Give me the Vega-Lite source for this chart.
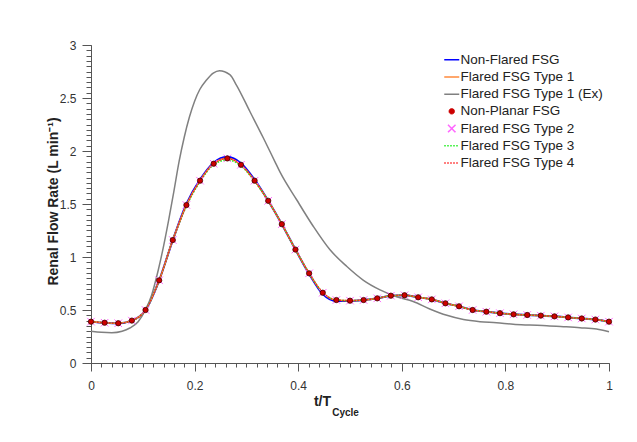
{
  "$schema": "https://vega.github.io/schema/vega-lite/v6.json",
  "width": 518,
  "height": 318,
  "autosize": "none",
  "padding": {"left": 91, "top": 45, "right": 28, "bottom": 79},
  "background": "white",
  "config": {
    "view": {"stroke": null},
    "font": "Liberation Sans",
    "axis": {
      "grid": false,
      "labelFont": "Liberation Sans",
      "titleFont": "Liberation Sans",
      "domainColor": "#555555",
      "tickColor": "#555555",
      "labelColor": "#333333",
      "titleColor": "#222222",
      "labelFontSize": 12
    }
  },
  "datasets": {
    "main": [
      {"t": 0, "nf": 0.39, "f1": 0.39, "np": 0.39, "f2": 0.39, "f3": 0.39, "f4": 0.39},
      {"t": 0.0263, "nf": 0.38, "f1": 0.38, "np": 0.38, "f2": 0.38, "f3": 0.38, "f4": 0.38},
      {"t": 0.0526, "nf": 0.375, "f1": 0.375, "np": 0.375, "f2": 0.375, "f3": 0.375, "f4": 0.375},
      {"t": 0.0789, "nf": 0.4, "f1": 0.4, "np": 0.4, "f2": 0.4, "f3": 0.4, "f4": 0.4},
      {"t": 0.1053, "nf": 0.5, "f1": 0.5, "np": 0.5, "f2": 0.5, "f3": 0.5, "f4": 0.5},
      {"t": 0.1316, "nf": 0.78, "f1": 0.78, "np": 0.78, "f2": 0.78, "f3": 0.78, "f4": 0.78},
      {"t": 0.1579, "nf": 1.16, "f1": 1.16, "np": 1.16, "f2": 1.16, "f3": 1.16, "f4": 1.16},
      {"t": 0.1842, "nf": 1.5, "f1": 1.49, "np": 1.49, "f2": 1.49, "f3": 1.48, "f4": 1.49},
      {"t": 0.2105, "nf": 1.73, "f1": 1.72, "np": 1.72, "f2": 1.72, "f3": 1.71, "f4": 1.72},
      {"t": 0.2368, "nf": 1.89, "f1": 1.88, "np": 1.88, "f2": 1.88, "f3": 1.87, "f4": 1.88},
      {"t": 0.2632, "nf": 1.945, "f1": 1.93, "np": 1.93, "f2": 1.93, "f3": 1.915, "f4": 1.93},
      {"t": 0.2895, "nf": 1.885, "f1": 1.87, "np": 1.87, "f2": 1.87, "f3": 1.86, "f4": 1.87},
      {"t": 0.3158, "nf": 1.73, "f1": 1.72, "np": 1.72, "f2": 1.72, "f3": 1.715, "f4": 1.72},
      {"t": 0.3421, "nf": 1.53, "f1": 1.53, "np": 1.53, "f2": 1.53, "f3": 1.53, "f4": 1.53},
      {"t": 0.3684, "nf": 1.31, "f1": 1.31, "np": 1.31, "f2": 1.31, "f3": 1.31, "f4": 1.31},
      {"t": 0.3947, "nf": 1.07, "f1": 1.07, "np": 1.07, "f2": 1.07, "f3": 1.07, "f4": 1.07},
      {"t": 0.4211, "nf": 0.84, "f1": 0.846, "np": 0.846, "f2": 0.846, "f3": 0.846, "f4": 0.846},
      {"t": 0.4474, "nf": 0.65, "f1": 0.663, "np": 0.663, "f2": 0.663, "f3": 0.663, "f4": 0.663},
      {"t": 0.4737, "nf": 0.585, "f1": 0.594, "np": 0.594, "f2": 0.594, "f3": 0.594, "f4": 0.594},
      {"t": 0.5, "nf": 0.585, "f1": 0.588, "np": 0.588, "f2": 0.588, "f3": 0.588, "f4": 0.588},
      {"t": 0.5263, "nf": 0.594, "f1": 0.594, "np": 0.594, "f2": 0.594, "f3": 0.594, "f4": 0.594},
      {"t": 0.5526, "nf": 0.61, "f1": 0.61, "np": 0.61, "f2": 0.61, "f3": 0.61, "f4": 0.61},
      {"t": 0.5789, "nf": 0.635, "f1": 0.635, "np": 0.635, "f2": 0.635, "f3": 0.635, "f4": 0.635},
      {"t": 0.6053, "nf": 0.639, "f1": 0.639, "np": 0.639, "f2": 0.639, "f3": 0.639, "f4": 0.639},
      {"t": 0.6316, "nf": 0.62, "f1": 0.62, "np": 0.62, "f2": 0.62, "f3": 0.62, "f4": 0.62},
      {"t": 0.6579, "nf": 0.6, "f1": 0.6, "np": 0.6, "f2": 0.6, "f3": 0.6, "f4": 0.6},
      {"t": 0.6842, "nf": 0.563, "f1": 0.563, "np": 0.563, "f2": 0.563, "f3": 0.563, "f4": 0.563},
      {"t": 0.7105, "nf": 0.535, "f1": 0.535, "np": 0.535, "f2": 0.535, "f3": 0.535, "f4": 0.535},
      {"t": 0.7368, "nf": 0.5, "f1": 0.5, "np": 0.5, "f2": 0.5, "f3": 0.5, "f4": 0.5},
      {"t": 0.7632, "nf": 0.484, "f1": 0.484, "np": 0.484, "f2": 0.484, "f3": 0.484, "f4": 0.484},
      {"t": 0.7895, "nf": 0.47, "f1": 0.47, "np": 0.47, "f2": 0.47, "f3": 0.47, "f4": 0.47},
      {"t": 0.8158, "nf": 0.459, "f1": 0.459, "np": 0.459, "f2": 0.459, "f3": 0.459, "f4": 0.459},
      {"t": 0.8421, "nf": 0.453, "f1": 0.453, "np": 0.453, "f2": 0.453, "f3": 0.453, "f4": 0.453},
      {"t": 0.8684, "nf": 0.447, "f1": 0.447, "np": 0.447, "f2": 0.447, "f3": 0.447, "f4": 0.447},
      {"t": 0.8947, "nf": 0.44, "f1": 0.44, "np": 0.44, "f2": 0.44, "f3": 0.44, "f4": 0.44},
      {"t": 0.9211, "nf": 0.43, "f1": 0.43, "np": 0.43, "f2": 0.43, "f3": 0.43, "f4": 0.43},
      {"t": 0.9474, "nf": 0.42, "f1": 0.42, "np": 0.42, "f2": 0.42, "f3": 0.42, "f4": 0.42},
      {"t": 0.9737, "nf": 0.41, "f1": 0.41, "np": 0.41, "f2": 0.41, "f3": 0.41, "f4": 0.41},
      {"t": 1, "nf": 0.39, "f1": 0.39, "np": 0.39, "f2": 0.39, "f3": 0.39, "f4": 0.39}
    ],
    "ex": [
      {"t": 0, "y": 0.3},
      {"t": 0.02, "y": 0.29},
      {"t": 0.04, "y": 0.286},
      {"t": 0.06, "y": 0.3},
      {"t": 0.075, "y": 0.33},
      {"t": 0.091, "y": 0.39},
      {"t": 0.105, "y": 0.5},
      {"t": 0.117, "y": 0.64},
      {"t": 0.13, "y": 0.88},
      {"t": 0.14, "y": 1.1},
      {"t": 0.15, "y": 1.35},
      {"t": 0.16, "y": 1.62},
      {"t": 0.17, "y": 1.9},
      {"t": 0.18, "y": 2.13},
      {"t": 0.19, "y": 2.32},
      {"t": 0.2, "y": 2.47},
      {"t": 0.21, "y": 2.58},
      {"t": 0.223, "y": 2.67},
      {"t": 0.236, "y": 2.735},
      {"t": 0.248, "y": 2.758},
      {"t": 0.268, "y": 2.72},
      {"t": 0.281, "y": 2.62},
      {"t": 0.307, "y": 2.37},
      {"t": 0.333, "y": 2.12},
      {"t": 0.355, "y": 1.9},
      {"t": 0.365, "y": 1.8},
      {"t": 0.397, "y": 1.54},
      {"t": 0.429, "y": 1.29},
      {"t": 0.461, "y": 1.07},
      {"t": 0.494, "y": 0.91},
      {"t": 0.526, "y": 0.78},
      {"t": 0.558, "y": 0.69},
      {"t": 0.59, "y": 0.625},
      {"t": 0.622, "y": 0.58},
      {"t": 0.654, "y": 0.51},
      {"t": 0.687, "y": 0.45},
      {"t": 0.719, "y": 0.41},
      {"t": 0.751, "y": 0.39},
      {"t": 0.783, "y": 0.38},
      {"t": 0.815, "y": 0.365},
      {"t": 0.847, "y": 0.358},
      {"t": 0.88, "y": 0.352},
      {"t": 0.912, "y": 0.343},
      {"t": 0.944, "y": 0.333},
      {"t": 0.976, "y": 0.32},
      {"t": 1, "y": 0.295}
    ]
  },
  "resolve": {"axis": {"x": "independent", "y": "independent"}},
  "layer": [
    {
      "data": {"name": "main"},
      "mark": {"type": "line", "interpolate": "monotone", "strokeWidth": 2},
      "encoding": {
        "x": {"field": "t", "type": "quantitative", "scale": {"domain": [0, 1], "nice": false},
          "axis": {"orient": "bottom", "values": [0, 0.2, 0.4, 0.6, 0.8, 1], "format": ".1~f", "tickSize": 8, "labelPadding": 9.5, "labelFlush": false, "labelOverlap": false,
            "title": "t/T", "titleFontSize": 14, "titleFontWeight": "bold", "titleX": 231, "titleY": 42, "titleBaseline": "alphabetic", "titleAlign": "center"}},
        "y": {"field": "nf", "type": "quantitative", "scale": {"domain": [0, 3], "nice": false},
          "axis": {"orient": "left", "values": [0, 0.5, 1, 1.5, 2, 2.5, 3], "format": ".1~f", "tickSize": 9, "labelPadding": 6, "labelFlush": false, "labelOverlap": false,
            "title": "Renal Flow Rate (L min⁻¹)", "titleFontSize": 14, "titleFontWeight": "bold", "titleX": -34, "titleY": 156, "titleAngle": -90, "titleBaseline": "alphabetic", "titleAlign": "center"}},
        "color": {"datum": "Non-Flared FSG",
          "scale": {"domain": ["Non-Flared FSG", "Flared FSG Type 1", "Flared FSG Type 1 (Ex)", "Non-Planar FSG", "Flared FSG Type 2", "Flared FSG Type 3", "Flared FSG Type 4"],
            "range": ["#0000ff", "#ff8a3d", "#808080", "#cc0000", "#ff66ff", "#22ee22", "#ff2020"]},
          "legend": {
            "title": null, "orient": "none", "legendX": 354, "legendY": 8, "padding": 0,
            "symbolSize": 225, "symbolType": "stroke", "labelOffset": 2, "rowPadding": 2.2,
            "labelFont": "Liberation Sans", "labelFontSize": 13.5, "labelColor": "#222222", "labelLimit": 300,
            "encode": {"symbols": {"update": {
              "shape": {"signal": "datum.value === 'Non-Planar FSG' ? 'circle' : datum.value === 'Flared FSG Type 2' ? 'M-1,-1L1,1M-1,1L1,-1' : 'stroke'"},
              "size": {"signal": "datum.value === 'Non-Planar FSG' ? 30 : datum.value === 'Flared FSG Type 2' ? 56 : 225"},
              "fill": {"signal": "datum.value === 'Non-Planar FSG' ? '#cc0000' : 'transparent'"},
              "stroke": {"signal": "datum.value === 'Non-Planar FSG' ? '#400000' : scale('color', datum.value)"},
              "strokeWidth": {"signal": "datum.value === 'Non-Planar FSG' ? 0.8 : 1.5"},
              "strokeDash": {"signal": "(datum.value === 'Flared FSG Type 3' || datum.value === 'Flared FSG Type 4') ? [1.5, 1.5] : [1, 0]"},
              "opacity": {"value": 1}
            }}}
          }}
      }
    },
    {
      "data": {"name": "main"},
      "mark": {"type": "line", "interpolate": "monotone", "strokeWidth": 1.6},
      "encoding": {
        "x": {"field": "t", "type": "quantitative", "scale": {"domain": [0, 1], "nice": false},
          "axis": {"orient": "bottom", "values": [0,0.02,0.04,0.06,0.08,0.1,0.12,0.14,0.16,0.18,0.2,0.22,0.24,0.26,0.28,0.3,0.32,0.34,0.36,0.38,0.4,0.42,0.44,0.46,0.48,0.5,0.52,0.54,0.56,0.58,0.6,0.62,0.64,0.66,0.68,0.7,0.72,0.74,0.76,0.78,0.8,0.82,0.84,0.86,0.88,0.9,0.92,0.94,0.96,0.98,1],
            "tickSize": 4, "labels": false, "domain": false,
            "title": "Cycle", "titleFontSize": 10, "titleFontWeight": "bold", "titleX": 254, "titleY": 52, "titleBaseline": "alphabetic", "titleAlign": "center"}},
        "y": {"field": "f1", "type": "quantitative", "scale": {"domain": [0, 3], "nice": false},
          "axis": {"orient": "left", "values": [0,0.05,0.1,0.15,0.2,0.25,0.3,0.35,0.4,0.45,0.5,0.55,0.6,0.65,0.7,0.75,0.8,0.85,0.9,0.95,1,1.05,1.1,1.15,1.2,1.25,1.3,1.35,1.4,1.45,1.5,1.55,1.6,1.65,1.7,1.75,1.8,1.85,1.9,1.95,2,2.05,2.1,2.15,2.2,2.25,2.3,2.35,2.4,2.45,2.5,2.55,2.6,2.65,2.7,2.75,2.8,2.85,2.9,2.95,3],
            "tickSize": 5, "labels": false, "domain": false, "title": null}},
        "color": {"datum": "Flared FSG Type 1"}
      }
    },
    {
      "data": {"name": "ex"},
      "mark": {"type": "line", "interpolate": "monotone", "strokeWidth": 1.5},
      "encoding": {
        "x": {"field": "t", "type": "quantitative", "scale": {"domain": [0, 1], "nice": false}, "axis": null},
        "y": {"field": "y", "type": "quantitative", "scale": {"domain": [0, 3], "nice": false}, "axis": null},
        "color": {"datum": "Flared FSG Type 1 (Ex)"}
      }
    },
    {
      "data": {"name": "main"},
      "mark": {"type": "line", "interpolate": "monotone", "strokeWidth": 1.5, "strokeDash": [1.5, 1.5]},
      "encoding": {
        "x": {"field": "t", "type": "quantitative", "scale": {"domain": [0, 1], "nice": false}, "axis": null},
        "y": {"field": "f3", "type": "quantitative", "scale": {"domain": [0, 3], "nice": false}, "axis": null},
        "color": {"datum": "Flared FSG Type 3"}
      }
    },
    {
      "data": {"name": "main"},
      "mark": {"type": "line", "interpolate": "monotone", "strokeWidth": 1.5, "strokeDash": [1.5, 1.5]},
      "encoding": {
        "x": {"field": "t", "type": "quantitative", "scale": {"domain": [0, 1], "nice": false}, "axis": null},
        "y": {"field": "f4", "type": "quantitative", "scale": {"domain": [0, 3], "nice": false}, "axis": null},
        "color": {"datum": "Flared FSG Type 4"}
      }
    },
    {
      "data": {"name": "main"},
      "mark": {"type": "point", "shape": "M-1,-1L1,1M-1,1L1,-1", "size": 56, "filled": false, "strokeWidth": 1, "opacity": 1},
      "encoding": {
        "x": {"field": "t", "type": "quantitative", "scale": {"domain": [0, 1], "nice": false}, "axis": null},
        "y": {"field": "f2", "type": "quantitative", "scale": {"domain": [0, 3], "nice": false}, "axis": null},
        "color": {"datum": "Flared FSG Type 2"}
      }
    },
    {
      "data": {"name": "main"},
      "mark": {"type": "point", "shape": "circle", "size": 28, "filled": true, "stroke": "#400000", "strokeWidth": 0.8, "opacity": 1},
      "encoding": {
        "x": {"field": "t", "type": "quantitative", "scale": {"domain": [0, 1], "nice": false}, "axis": null},
        "y": {"field": "np", "type": "quantitative", "scale": {"domain": [0, 3], "nice": false}, "axis": null},
        "color": {"datum": "Non-Planar FSG"}
      }
    }
  ]
}
